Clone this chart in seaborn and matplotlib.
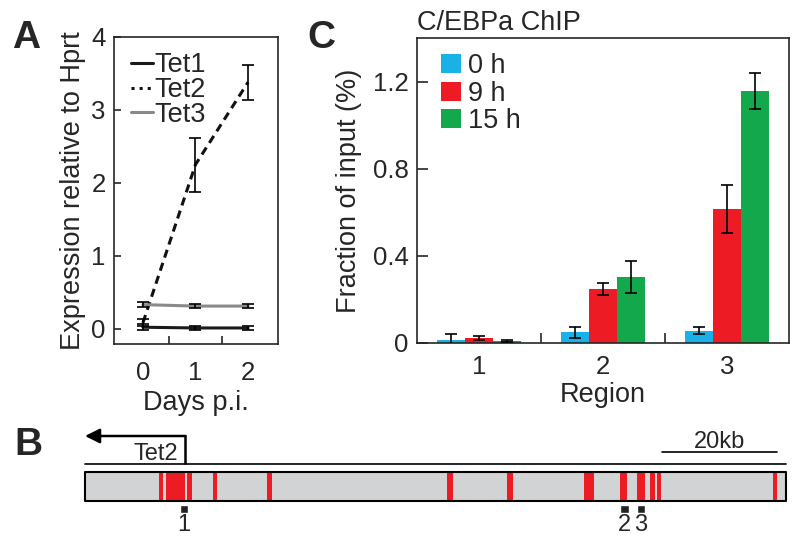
import numpy as np
import pandas as pd
import matplotlib
matplotlib.use("Agg")
import matplotlib.pyplot as plt
from matplotlib.lines import Line2D
import seaborn as sns

# panel A - Tet expression after infection
days = [0, 1, 2]
tet1 = [0.02, 0.01, 0.01]
tet1_err = [0.04, 0.03, 0.03]
tet2 = [0.08, 2.25, 3.38]
tet2_err = [0.05, 0.37, 0.24]
tet3 = [0.33, 0.31, 0.31]
tet3_err = [0.03, 0.03, 0.03]

# panel C - C/EBPa ChIP
regions = ['1', '2', '3']
timepoints = ['0 h', '9 h', '15 h']
chip_0h = [0.015, 0.05, 0.057]
chip_9h = [0.023, 0.248, 0.615]
chip_15h = [0.008, 0.303, 1.155]
err_0h = [0.025, 0.025, 0.015]
err_9h = [0.01, 0.026, 0.11]
err_15h = [0.005, 0.074, 0.083]

# panel B - Tet2 locus (kb)
locus_len = 121.5
tss = 17.3
band_start = [12.8, 14.1, 17.7, 22.2, 31.6, 62.8, 73.1, 86.5, 92.7, 95.6, 97.9, 99.1, 119.2]
band_end = [13.5, 17.4, 18.5, 22.9, 32.4, 63.7, 74.1, 88.3, 93.9, 97.1, 98.8, 99.8, 120.0]
amplicon_pos = [17.2, 93.5, 96.3]
scale_start = 100
scale_len = 20

sns.set_style("ticks")
plt.rcParams['font.family'] = ['Liberation Sans', 'DejaVu Sans']

blue = '#1ab0e8'
red = '#ed1c24'
green = '#13a84b'

fig = plt.figure(figsize=(8, 5.42), dpi=100)

# ---------- A ----------
axA = fig.add_axes([114/800, 1-344/542, 164/800, 307/542])
dfA = pd.DataFrame({
    'day': days * 3,
    'expr': tet1 + tet2 + tet3,
    'gene': ['Tet1']*3 + ['Tet2']*3 + ['Tet3']*3,
})
sns.lineplot(data=dfA, x='day', y='expr', hue='gene', style='gene',
             palette={'Tet1': '#1a1a1a', 'Tet2': '#111111', 'Tet3': '#8a8a8a'},
             dashes={'Tet1': '', 'Tet2': (2.7, 1.8), 'Tet3': ''},
             linewidth=2.2, legend=False, ax=axA)
for vals, err in [(tet3, tet3_err), (tet1, tet1_err), (tet2, tet2_err)]:
    axA.errorbar(days, vals, yerr=err, fmt='none', ecolor='black',
                 elinewidth=1.2, capsize=4.5, capthick=1.2, zorder=5)
axA.set_xlim(-0.55, 2.57)
axA.set_ylim(-0.21, 4.0)
axA.set_yticks([0, 1, 2, 3, 4])
axA.set_xticks([0.5, 1.5])
axA.set_xticklabels([])
axA.set_xticks(days, minor=True)
axA.set_xticklabels(['0', '1', '2'], minor=True)
axA.tick_params(axis='x', which='minor', length=0, pad=12, labelsize=18.5)
axA.tick_params(axis='x', which='major', direction='in', length=6, width=1.2)
axA.tick_params(axis='y', direction='in', length=5, width=1.2, pad=6, labelsize=18.5)
axA.set_xlabel('Days p.i.', fontsize=19.5, labelpad=4)
axA.set_ylabel('Expression relative to Hprt', fontsize=19.5, labelpad=4)
for s in axA.spines.values():
    s.set_linewidth(1.2)
    s.set_visible(True)
handlesA = [Line2D([], [], color='#1a1a1a', lw=2.2),
            Line2D([], [], color='#111111', lw=2.2, ls=':'),
            Line2D([], [], color='#8a8a8a', lw=2.2)]
axA.legend(handlesA, ['Tet1', 'Tet2', 'Tet3'], loc='upper left', frameon=False,
           bbox_to_anchor=(0.04, 0.985), borderaxespad=0, handlelength=0.8,
           handletextpad=0.05, labelspacing=-0.05, fontsize=19.5)

# ---------- C ----------
axC = fig.add_axes([417/800, 1-343/542, 372/800, 305/542])
dfC = pd.DataFrame({
    'region': regions * 3,
    'value': chip_0h + chip_9h + chip_15h,
    'time': ['0 h']*3 + ['9 h']*3 + ['15 h']*3,
})
sns.barplot(data=dfC, x='region', y='value', hue='time', hue_order=timepoints,
            palette=[blue, red, green], width=0.67, errorbar=None, saturation=1,
            linewidth=0, ax=axC)
for cont, err in zip(axC.containers, [err_0h, err_9h, err_15h]):
    xs = [b.get_x() + b.get_width()/2 for b in cont]
    hs = [b.get_height() for b in cont]
    axC.errorbar(xs, hs, yerr=err, fmt='none', ecolor='black',
                 elinewidth=1.2, capsize=4.5, capthick=1.2, zorder=5)
axC.set_xlim(-0.5, 2.5)
axC.set_ylim(0, 1.4)
axC.set_yticks([0, 0.4, 0.8, 1.2])
axC.set_yticklabels(['0', '0.4', '0.8', '1.2'])
axC.set_xticks([0.5, 1.5])
axC.set_xticklabels([])
axC.set_xticks([0, 1, 2], minor=True)
axC.set_xticklabels(regions, minor=True)
axC.tick_params(axis='x', which='minor', length=0, pad=9, labelsize=18.5)
axC.tick_params(axis='x', which='major', direction='in', length=7, width=1.2)
axC.tick_params(axis='y', direction='in', length=8, width=1.2, pad=6, labelsize=18.5)
axC.set_xlabel('Region', fontsize=19.5, labelpad=2)
axC.set_ylabel('Fraction of input (%)', fontsize=19.5, labelpad=8)
for s in axC.spines.values():
    s.set_linewidth(1.2)
    s.set_visible(True)
axC.legend(loc='upper left', frameon=False, bbox_to_anchor=(0.035, 0.985),
           borderaxespad=0, handlelength=0.75, handleheight=0.7,
           handletextpad=0.25, labelspacing=0.05, fontsize=19.5)
axC.text(0, 1 + 8/305, 'C/EBPa ChIP', transform=axC.transAxes,
         ha='left', va='baseline', fontsize=19.5)

# ---------- B ----------
axB = fig.add_axes([0, 0, 1, 112/542])
pxkb = 5.77
axB.set_xlim(-85/pxkb, 715/pxkb)
axB.set_ylim(112, 0)
axB.axis('off')
axB.broken_barh([(0, locus_len)], (42, 29), facecolors='#d1d3d4', edgecolor='none')
axB.broken_barh([(s, e - s) for s, e in zip(band_start, band_end)], (42, 29),
                facecolors=red, edgecolor='none')
axB.broken_barh([(0, locus_len)], (42, 29), facecolors='none', edgecolor='black', linewidth=1.5)
axB.plot([0, locus_len], [34, 34], color='black', lw=1.2)
axB.plot([tss, tss], [34, 6], color='black', lw=1.8, solid_capstyle='butt')
axB.annotate('', xy=(0, 6), xytext=(tss + 0.15, 6),
             arrowprops=dict(arrowstyle='-|>', color='black', lw=1.8,
                             mutation_scale=22, shrinkA=0, shrinkB=0))
axB.text(tss - 1.2, 30, 'Tet2', ha='right', va='baseline', fontsize=17)
axB.plot([scale_start, scale_start + scale_len], [22, 22], color='black', lw=1.2)
axB.text(scale_start + scale_len/2, 18, '%dkb' % scale_len, ha='center',
         va='baseline', fontsize=17)
axB.broken_barh([(p - 0.7, 1.4) for p in amplicon_pos], (75, 8), facecolors='#222222')
for i, p in enumerate(amplicon_pos):
    axB.text(p, 101, str(i + 1), ha='center', va='baseline', fontsize=17)

# panel letters
fig.text(12/800, 1-48/542, 'A', fontsize=28, fontweight='bold', va='baseline')
fig.text(307/800, 1-48/542, 'C', fontsize=28, fontweight='bold', va='baseline')
fig.text(14/800, 1-455/542, 'B', fontsize=28, fontweight='bold', va='baseline')

fig.savefig('out.png', dpi=100)
